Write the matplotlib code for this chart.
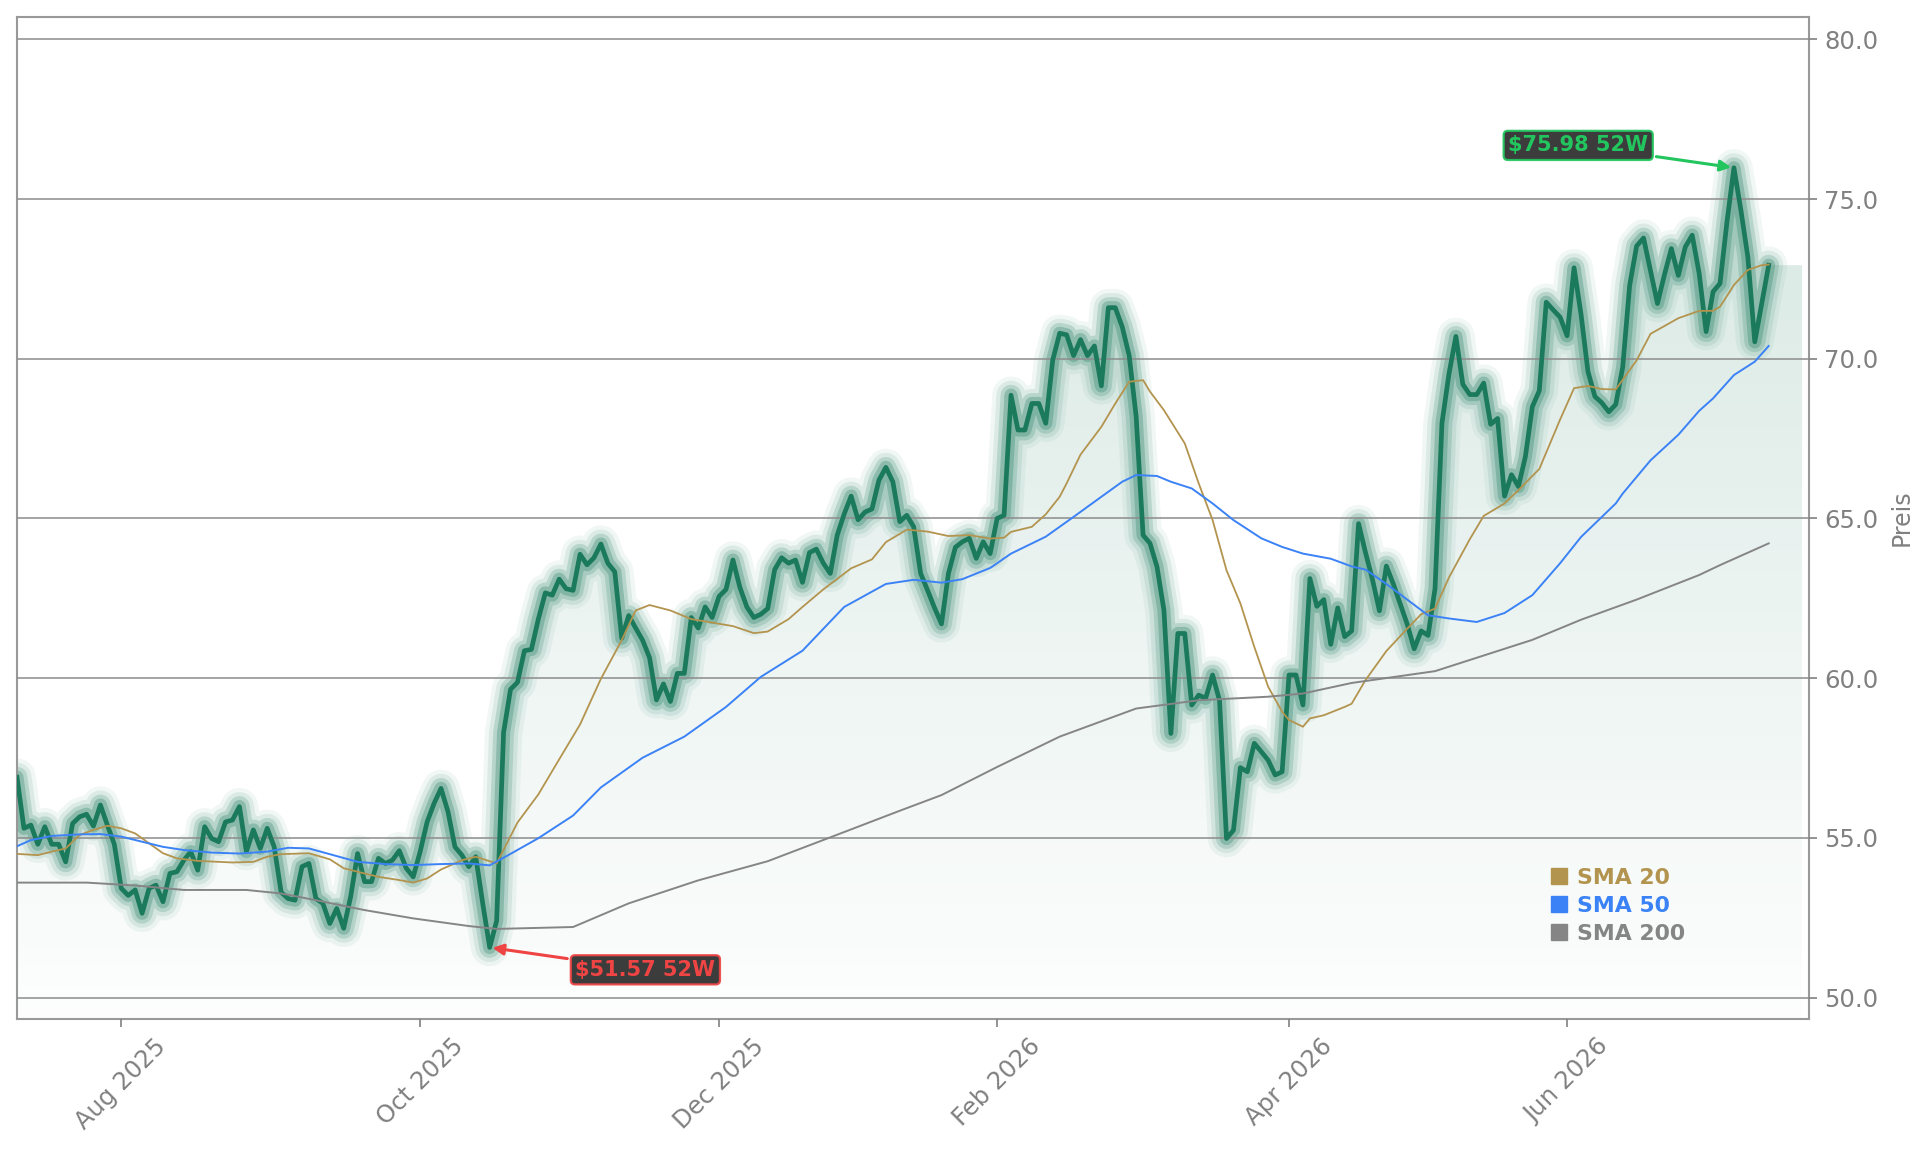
import numpy as np
import pandas as pd
import matplotlib
matplotlib.use("Agg")
import matplotlib.pyplot as plt
from matplotlib.lines import Line2D
from matplotlib.patches import Polygon
from matplotlib.ticker import FormatStrFormatter

# Xetra trading sessions, Jul 2025 - Jul 2026
start_date = "2025-07-11"
xetra_holidays = ["2025-12-24", "2025-12-25", "2025-12-26", "2025-12-31",
                  "2026-01-01", "2026-04-03", "2026-04-06", "2026-05-01"]

# closing prices (one per session)
price = [
    56.9, 55.3, 55.4, 54.8, 55.35, 54.8, 54.8, 54.25, 55.45, 55.66,
    55.74, 55.37, 56.03, 55.4, 54.8, 53.42, 53.2, 53.37, 52.64, 53.42,
    53.52, 53.0, 53.89, 53.94, 54.3, 54.57, 53.99, 55.35, 54.98, 54.88,
    55.5, 55.56, 55.98, 54.57, 55.25, 54.67, 55.3, 54.72, 53.3, 53.1,
    53.05, 54.1, 54.2, 53.1, 52.95, 52.32, 52.79, 52.17, 53.16, 54.51,
    53.63, 53.63, 54.36, 54.2, 54.3, 54.6, 54.05, 53.78, 54.57, 55.5,
    56.08, 56.55, 55.82, 54.72, 54.46, 54.1, 54.41, 52.95, 51.57, 52.4,
    58.3, 59.65, 59.87, 60.86, 60.9, 61.85, 62.67, 62.6, 63.1, 62.8,
    62.75, 63.88, 63.55, 63.77, 64.2, 63.6, 63.33, 61.25, 61.96, 61.57,
    61.19, 60.64, 59.32, 59.82, 59.27, 60.15, 60.15, 61.9, 61.57, 62.23,
    61.9, 62.56, 62.78, 63.7, 62.84, 62.23, 61.9, 62.0, 62.18, 63.4,
    63.77, 63.6, 63.7, 63.0, 63.93, 64.04, 63.6, 63.28, 64.48, 65.14,
    65.7, 64.96, 65.2, 65.3, 66.2, 66.6, 66.15, 64.9, 65.1, 64.74,
    63.28, 62.75, 62.2, 61.7, 63.28, 64.1, 64.27, 64.38, 63.75, 64.27,
    63.9, 65.0, 65.1, 68.86, 67.77, 67.77, 68.6, 68.6, 67.98, 69.96,
    70.8, 70.75, 70.1, 70.6, 70.1, 70.4, 69.15, 71.6, 71.6, 71.0,
    70.1, 68.2, 64.48, 64.22, 63.49, 62.13, 58.27, 61.4, 61.4, 59.16,
    59.47, 59.37, 60.1, 59.3, 54.98, 55.24, 57.2, 57.07, 57.96, 57.7,
    57.43, 56.97, 57.07, 60.1, 60.1, 59.16, 63.12, 62.25, 62.46, 61.06,
    62.2, 61.3, 61.48, 64.84, 63.93, 63.09, 62.11, 63.51, 62.95, 62.32,
    61.69, 60.92, 61.48, 61.34, 62.81, 67.99, 69.52, 70.7, 69.2, 68.88,
    68.88, 69.24, 67.95, 68.13, 65.7, 66.37, 66.0, 66.94, 68.5, 69.0,
    71.77, 71.53, 71.3, 70.72, 72.85, 71.4, 69.6, 68.82, 68.62, 68.34,
    68.57, 69.74, 72.3, 73.53, 73.78, 72.76, 71.73, 72.63, 73.45, 72.61,
    73.5, 73.87, 72.67, 70.85, 72.1, 72.36, 74.29, 75.98, 74.66, 73.19,
    70.53, 71.73, 72.93,
]

# moving averages, read at selected sessions
sma20_day = [0, 3, 5, 7, 9, 11, 13, 15, 17, 19, 21, 23, 26, 29, 31, 34, 36, 38,
             42, 45, 47, 49, 52, 55, 57, 59, 61, 64, 66, 69, 72, 75, 78, 81, 84,
             87, 89, 91, 94, 97, 100, 103, 106, 108, 111, 113, 116, 118, 120,
             123, 125, 128, 131, 134, 137, 140, 142, 143, 146, 148, 150, 151,
             153, 156, 158, 160, 162, 163, 165, 168, 170, 172, 174, 176, 178,
             180, 182, 183, 185, 186, 188, 191, 192, 194, 197, 200, 202, 204,
             206, 209, 211, 214, 216, 219, 222, 224, 226, 228, 230, 233, 235,
             239, 242, 244, 245, 247, 249, 251, 252]
sma20 = [54.5, 54.46, 54.57, 54.67, 55.09, 55.25, 55.38, 55.3, 55.14, 54.83,
         54.52, 54.36, 54.28, 54.25, 54.23, 54.25, 54.41, 54.49, 54.52, 54.33,
         54.05, 53.94, 53.78, 53.68, 53.6, 53.73, 54.01, 54.3, 54.41, 54.2,
         55.48, 56.36, 57.46, 58.55, 59.98, 61.19, 62.12, 62.29, 62.12, 61.85,
         61.74, 61.63, 61.41, 61.46, 61.85, 62.23, 62.78, 63.11, 63.44, 63.72,
         64.26, 64.65, 64.59, 64.45, 64.48, 64.37, 64.4, 64.58, 64.74, 65.13,
         65.68, 66.1, 67.0, 67.87, 68.6, 69.28, 69.33, 68.97, 68.39, 67.35,
         66.1, 64.95, 63.38, 62.34, 60.98, 59.73, 58.95, 58.69, 58.48, 58.74,
         58.84, 59.1, 59.2, 59.94, 60.85, 61.55, 62.0, 62.18, 63.15, 64.35,
         65.08, 65.47, 65.89, 66.55, 68.1, 69.08, 69.15, 69.05, 69.04, 69.95,
         70.78, 71.27, 71.5, 71.5, 71.63, 72.31, 72.78, 72.93, 72.95]

sma50_day = [0, 2, 5, 9, 12, 15, 18, 21, 24, 28, 32, 36, 39, 42, 45, 49, 53, 57,
             61, 65, 68, 71, 75, 80, 84, 90, 96, 102, 107, 113, 119, 125, 129,
             133, 136, 140, 143, 148, 152, 156, 159, 161, 164, 166, 169, 172,
             175, 179, 182, 185, 189, 192, 194, 197, 200, 203, 206, 210, 214,
             218, 222, 225, 228, 230, 231, 235, 239, 242, 244, 247, 250, 252]
sma50 = [54.74, 54.93, 55.06, 55.11, 55.12, 55.04, 54.88, 54.72, 54.62, 54.54,
         54.51, 54.57, 54.69, 54.67, 54.49, 54.25, 54.18, 54.15, 54.18, 54.2,
         54.14, 54.5, 54.99, 55.7, 56.58, 57.51, 58.17, 59.1, 60.04, 60.86,
         62.23, 62.95, 63.08, 62.99, 63.1, 63.45, 63.9, 64.43, 65.05, 65.68,
         66.15, 66.36, 66.33, 66.15, 65.94, 65.47, 64.95, 64.38, 64.11, 63.9,
         63.74, 63.5, 63.4, 62.95, 62.46, 61.97, 61.87, 61.76, 62.04, 62.6,
         63.6, 64.42, 65.05, 65.47, 65.78, 66.82, 67.62, 68.37, 68.76, 69.49,
         69.91, 70.4]

sma200_day = [0, 10, 17, 24, 33, 38, 43, 50, 57, 65, 69, 80, 88, 98, 108, 118,
              127, 133, 141, 150, 161, 170, 180, 185, 192, 204, 211, 218, 225,
              233, 242, 245, 252]
sma200 = [53.6, 53.6, 53.51, 53.37, 53.37, 53.26, 53.05, 52.74, 52.48, 52.24,
          52.15, 52.21, 52.95, 53.67, 54.27, 55.1, 55.85, 56.34, 57.22, 58.17,
          59.05, 59.31, 59.42, 59.52, 59.85, 60.22, 60.71, 61.2, 61.83, 62.46,
          63.23, 63.54, 64.22]

legend_labels = ["SMA 20", "SMA 50", "SMA 200"]

# styling
green = "#1b7a5c"
c_sma20 = "#b3944f"
c_sma50 = "#3b82f6"
c_sma200 = "#858585"
c_text = "#808080"
c_red = "#ef4444"
c_hi = "#22c55e"

dates = pd.bdate_range(start_date, periods=len(price), freq="C",
                       holidays=xetra_holidays)
x = np.arange(len(price))
p = np.array(price)

fig = plt.figure(figsize=(19.29, 11.51), dpi=100)
ax = fig.add_axes([17 / 1929, 132 / 1151, 1792 / 1929, 1002 / 1151])
ymin, ymax = 49.33, 80.7
xmax = x[-1] + 5.8

# gradient area under the price
fill_end = x[-1] + 4.8
verts = list(zip(x, p)) + [(fill_end, p[-1]), (fill_end, ymin), (0, ymin)]
poly = Polygon(verts, closed=True, fc="none", ec="none")
ax.add_patch(poly)
grad = np.zeros((256, 1, 4))
grad[..., :3] = matplotlib.colors.to_rgb(green)
grad[:, 0, 3] = np.linspace(0.01, 0.17, 256)
im = ax.imshow(grad, extent=[0, fill_end, ymin, p.max()], origin="lower",
               aspect="auto", zorder=1)
im.set_clip_path(poly)

# glowing price line
for lw, a in [(27, 0.06), (21, 0.1), (15, 0.18), (9.5, 0.28)]:
    ax.plot(x, p, color=green, lw=lw, alpha=a, solid_joinstyle="round",
            solid_capstyle="round", zorder=2)
ax.plot(x, p, color=green, lw=3.4, solid_joinstyle="round", zorder=3)

# moving averages
ax.plot(sma20_day, sma20, color=c_sma20, lw=1.3, zorder=4)
ax.plot(sma50_day, sma50, color=c_sma50, lw=1.4, zorder=4)
ax.plot(sma200_day, sma200, color=c_sma200, lw=1.4, zorder=4)

ax.set_xlim(0, xmax)
ax.set_ylim(ymin, ymax)

# 52-week high / low labels
lo_i, hi_i = int(np.argmin(p)), int(np.argmax(p))
box = dict(boxstyle="round,pad=0.22,rounding_size=0.2", fc="#2b2b2b",
           lw=1.6, alpha=0.92)
ax.annotate(f"${p[lo_i]:.2f} 52W", xy=(lo_i, p[lo_i]),
            xytext=(lo_i + 22.4, p[lo_i] - 0.7), ha="center", va="center",
            color=c_red, fontsize=15, fontweight="bold", zorder=6,
            bbox=dict(box, ec=c_red),
            arrowprops=dict(arrowstyle="-|>", color=c_red, lw=2.2,
                            mutation_scale=16))
ax.annotate(f"${p[hi_i]:.2f} 52W", xy=(hi_i, p[hi_i]),
            xytext=(hi_i - 22.4, p[hi_i] + 0.7), ha="center", va="center",
            color=c_hi, fontsize=15, fontweight="bold", zorder=6,
            bbox=dict(box, ec=c_hi),
            arrowprops=dict(arrowstyle="-|>", color=c_hi, lw=2.2,
                            mutation_scale=16))

# axes styling
ax.set_axisbelow(False)
ax.set_yticks(np.arange(50, 81, 5))
ax.yaxis.set_major_formatter(FormatStrFormatter("%.1f"))
ax.grid(axis="y", color="#8c8c8c", lw=1.1)
ax.yaxis.tick_right()
ax.yaxis.set_label_position("right")
ax.set_ylabel("Preis", color=c_text, fontsize=17, labelpad=8)

month_start = [i for i in range(1, len(dates))
               if dates[i].month != dates[i - 1].month and dates[i].month % 2 == 0]
ax.set_xticks(month_start)
ax.set_xticklabels([dates[i].strftime("%b %Y") for i in month_start], rotation=45)
ax.tick_params(colors=c_text, labelsize=17.5, length=6, width=1.2, pad=5)
for s in ax.spines.values():
    s.set_color("#999999")
    s.set_linewidth(1.5)

handles = [Line2D([], [], marker="s", ls="none", color=c, markersize=11.5)
           for c in (c_sma20, c_sma50, c_sma200)]
ax.legend(handles, legend_labels, loc="upper left", bbox_to_anchor=(0.8544, 0.1508),
          frameon=False, labelcolor=[c_sma20, c_sma50, c_sma200],
          prop={"weight": "bold", "size": 15.8}, handlelength=1.0,
          handletextpad=0.32, labelspacing=0.36, borderpad=0, borderaxespad=0)

fig.savefig("out.png", dpi=100)
